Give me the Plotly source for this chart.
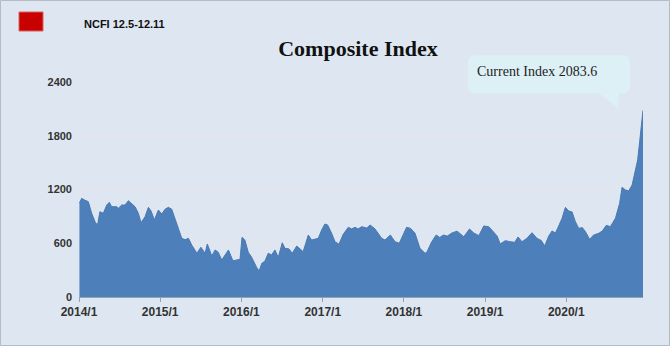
import plotly.graph_objects as go

# Weekly-ish composite freight index readings, Jan 2014 - Dec 2020
dates = [
    "2014-01-03", "2014-01-13", "2014-01-28", "2014-02-12", "2014-02-27", "2014-03-17",
    "2014-03-26", "2014-04-05", "2014-04-20", "2014-05-06", "2014-05-17", "2014-05-28",
    "2014-06-20", "2014-06-27", "2014-07-12", "2014-07-27", "2014-08-11", "2014-08-18",
    "2014-09-10", "2014-09-25", "2014-10-07", "2014-10-25", "2014-11-09", "2014-11-21",
    "2014-12-06", "2014-12-24",
    "2015-01-08", "2015-01-23", "2015-02-07", "2015-02-22", "2015-03-17", "2015-04-08",
    "2015-04-23", "2015-05-08", "2015-05-23", "2015-06-15", "2015-07-03", "2015-07-22",
    "2015-08-01", "2015-08-21", "2015-09-05", "2015-09-19", "2015-10-05", "2015-11-04",
    "2015-11-24", "2015-12-12", "2015-12-26",
    "2016-01-04", "2016-01-17", "2016-02-01", "2016-02-16", "2016-03-10", "2016-03-21",
    "2016-04-02", "2016-04-16", "2016-05-01", "2016-05-16", "2016-05-31", "2016-06-15",
    "2016-07-03", "2016-07-15", "2016-08-02", "2016-08-17", "2016-09-06", "2016-09-20",
    "2016-10-05", "2016-10-28", "2016-11-12", "2016-12-12", "2016-12-27",
    "2017-01-11", "2017-01-23", "2017-02-10", "2017-02-25", "2017-03-15", "2017-04-03",
    "2017-04-26", "2017-05-11", "2017-05-26", "2017-06-09", "2017-06-25", "2017-07-18",
    "2017-08-02", "2017-08-24", "2017-09-23", "2017-10-08", "2017-11-01", "2017-11-22",
    "2017-12-11", "2017-12-29",
    "2018-01-13", "2018-01-31", "2018-02-20", "2018-03-14", "2018-04-06", "2018-04-14",
    "2018-05-06", "2018-05-26", "2018-06-11", "2018-06-28", "2018-07-15", "2018-08-05",
    "2018-08-28", "2018-09-27", "2018-10-23", "2018-11-11", "2018-12-04", "2018-12-26",
    "2019-01-17", "2019-02-04", "2019-02-24", "2019-03-10", "2019-04-02", "2019-04-24",
    "2019-05-14", "2019-05-29", "2019-06-16", "2019-07-08", "2019-07-31", "2019-08-22",
    "2019-09-11", "2019-09-26", "2019-10-14", "2019-10-29", "2019-11-13", "2019-11-23",
    "2019-12-13", "2019-12-28",
    "2020-01-12", "2020-01-27", "2020-02-11", "2020-02-26", "2020-03-13", "2020-03-27",
    "2020-04-15", "2020-05-03", "2020-05-26", "2020-06-11", "2020-06-29", "2020-07-17",
    "2020-08-09", "2020-08-28", "2020-09-08", "2020-09-23", "2020-10-08", "2020-10-23",
    "2020-11-07", "2020-11-17", "2020-11-26", "2020-12-11",
]
index_values = [
    1049, 1101, 1080, 1064, 934, 822,
    811, 952, 934, 1027, 1057, 1008,
    1008, 990, 1027, 1027, 1075, 1057,
    1008, 934, 829, 896, 1001, 960,
    860, 971,
    926, 980, 1001, 980, 822, 655,
    640, 655, 580, 488, 555, 488,
    592, 458, 525, 500, 413, 525,
    405, 415, 420,
    666, 635, 500, 445, 330, 290,
    376, 400, 488, 470, 525, 443,
    606, 543, 537, 488, 569, 543,
    506, 692, 636, 655, 748,
    815, 804, 711, 617, 590, 700,
    778, 760, 778, 760, 785, 770,
    804, 760, 655, 636, 692, 617,
    600, 692,
    778, 766, 711, 543, 488, 500,
    617, 692, 665, 692, 680, 715,
    735, 673, 759, 715, 685, 793,
    785, 737, 680, 592, 629, 617,
    610, 670, 617, 655, 718, 655,
    630, 569, 680, 737, 715, 766,
    878, 1001,
    960, 950, 841, 766, 775, 730,
    644, 692, 711, 737, 800, 785,
    878, 1046, 1225, 1195, 1185, 1250,
    1399, 1529, 1735, 2083.6,
]

year_ticks = ["2014-01-01", "2015-01-01", "2016-01-01", "2017-01-01",
              "2018-01-01", "2019-01-01", "2020-01-01"]
year_labels = ["2014/1", "2015/1", "2016/1", "2017/1", "2018/1", "2019/1", "2020/1"]
y_ticks = [0, 600, 1200, 1800, 2400]
y_max = 2400

legend_text = "NCFI 12.5-12.11"
title_text = "Composite Index"

W, H = 670, 346
M_L, M_R, M_T, M_B = 79, 27, 82, 49
PW, PH = W - M_L - M_R, H - M_T - M_B
BG = "#dee7f1"


def px(x):
    """Figure pixel column -> paper x."""
    return (x - M_L) / PW


def py(y):
    """Figure pixel row -> paper y."""
    return (H - M_B - y) / PH


fig = go.Figure()
fig.add_trace(go.Scatter(
    x=dates, y=index_values, mode="lines", fill="tozeroy",
    line=dict(color="#4a79b2", width=1), fillcolor="#4d7fbb",
    hoverinfo="x+y", showlegend=False,
))

last_x, last_y = dates[-1], index_values[-1]
# the latest reading sits at the right edge of the x range
anchor_x, anchor_y = 1.0, last_y / y_max

# callout bubble anchored to the latest reading (pixel offsets, y up)
bubble = ("M -167,55 L -21,55 Q -13,55 -13,47 L -13,25 Q -13,17 -21,17 "
          "L -24,17 L -25,2 L -44,17 L -167,17 Q -175,17 -175,25 L -175,47 "
          "Q -175,55 -167,55 Z")

shapes = [
    dict(type="path", xref="paper", yref="paper", xsizemode="pixel", ysizemode="pixel",
         xanchor=anchor_x, yanchor=anchor_y, path=bubble,
         fillcolor="#dcf0f5", line=dict(width=0), layer="above"),
    # legend swatch
    dict(type="rect", xref="paper", yref="paper",
         x0=px(19), x1=px(43), y0=py(31), y1=py(12),
         fillcolor="#c80000", line=dict(color="#d86060", width=1)),
    # outer frame
    dict(type="rect", xref="paper", yref="paper",
         x0=px(0.5), x1=px(W - 0.5), y0=py(H - 0.5), y1=py(0.5),
         line=dict(color="#b4bcc6", width=1), fillcolor="rgba(0,0,0,0)"),
]

annotations = [
    dict(x=anchor_x, y=anchor_y, xref="paper", yref="paper", showarrow=False,
         text=f"Current Index {last_y}", xanchor="left", yanchor="middle",
         xshift=-168, yshift=39,
         font=dict(family="Liberation Serif", size=14, color="#1e1e1e")),
    dict(x=px(82), y=py(24), xref="paper", yref="paper", showarrow=False,
         text=f"<b>{legend_text}</b>", xanchor="left", yanchor="middle",
         font=dict(family="Liberation Sans", size=11, color="#111111")),
]

fig.update_layout(
    width=W, height=H,
    margin=dict(l=M_L, r=M_R, t=M_T, b=M_B),
    paper_bgcolor=BG, plot_bgcolor=BG,
    title=dict(text=f"<b>{title_text}</b>", x=358 / W, xanchor="center",
               y=1 - 48 / H, yanchor="middle", yref="container",
               font=dict(family="Liberation Serif", size=22, color="#111111")),
    shapes=shapes, annotations=annotations,
    xaxis=dict(type="date", range=["2014-01-01", last_x],
               tickvals=year_ticks, ticktext=[f"<b>{t}</b>" for t in year_labels],
               ticks="outside", ticklen=4, tickcolor="#9aa0a8",
               showline=True, linecolor="#9aa0a8", linewidth=1,
               showgrid=False, zeroline=False,
               tickfont=dict(family="Liberation Sans", size=12, color="#333333")),
    yaxis=dict(range=[0, y_max], tickvals=y_ticks,
               ticktext=[f"<b>{v}</b>" for v in y_ticks],
               showgrid=True, gridcolor="#ebe4e6", gridwidth=1,
               zeroline=False, showline=False, ticks="",
               ticklabelstandoff=6,
               tickfont=dict(family="Liberation Sans", size=11, color="#333333")),
)

fig.write_html("out.html")
